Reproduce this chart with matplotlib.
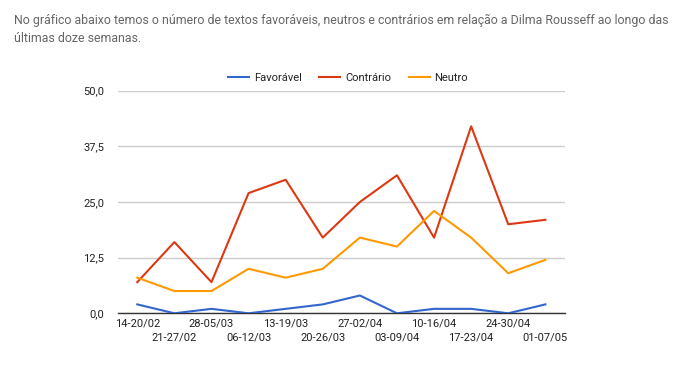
import matplotlib
matplotlib.use("Agg")
import matplotlib.pyplot as plt
from matplotlib import font_manager

weeks = ["14-20/02", "21-27/02", "28-05/03", "06-12/03", "13-19/03", "20-26/03",
         "27-02/04", "03-09/04", "10-16/04", "17-23/04", "24-30/04", "01-07/05"]
favoravel = [2, 0, 1, 0, 1, 2, 4, 0, 1, 1, 0, 2]
contrario = [7, 16, 7, 27, 30, 17, 25, 31, 17, 42, 20, 21]
neutro = [8, 5, 5, 10, 8, 10, 17, 15, 23, 17, 9, 12]
yticks = [0, 12.5, 25, 37.5, 50]
ytick_labels = ["0,0", "12,5", "25,0", "37,5", "50,0"]
series_names = ["Favorável", "Contrário", "Neutro"]
colors = ["#3366cc", "#dc3912", "#ff9900"]

plt.rcParams['font.family'] = ['Roboto', 'DejaVu Sans']

names = {f.name for f in font_manager.fontManager.ttflist}
if "Liberation Sans Narrow" in names:
    title_family = ['Liberation Sans Narrow', 'DejaVu Sans']
    title_size = 10.0
else:
    title_family = ['Roboto', 'DejaVu Sans']
    title_size = 8.9

fig = plt.figure(figsize=(6.8, 3.65), dpi=100)
fig.text(14/680, 1 - 20/365,
         "No gráfico abaixo temos o número de textos favoráveis, neutros e contrários em relação a Dilma Rousseff ao longo das",
         fontsize=title_size, family=title_family, color="#666666", va="center", ha="left")
fig.text(14/680, 1 - 38/365, "últimas doze semanas.",
         fontsize=title_size, family=title_family, color="#666666", va="center", ha="left")

ax = fig.add_axes([118/680, 1 - 313.3/365, (565 - 118)/680, (313.3 - 90.7)/365])
x = list(range(len(weeks)))
lines = []
for vals, name, c in zip([favoravel, contrario, neutro], series_names, colors):
    ln, = ax.plot(x, vals, color=c, lw=1.5, label=name, zorder=3)
    lines.append(ln)

ax.set_xlim(-0.52, len(weeks) - 1 + 0.53)
ax.set_ylim(0, 50)
ax.set_yticks(yticks)
ax.set_yticklabels(ytick_labels)
ax.yaxis.grid(True, color="#cccccc", lw=1)
ax.set_axisbelow(True)
for s in ["top", "right", "left"]:
    ax.spines[s].set_visible(False)
ax.spines["bottom"].set_color("#333333")
ax.spines["bottom"].set_linewidth(1)
ax.tick_params(axis="y", length=0, labelsize=8, labelcolor="#222222", pad=10)
ax.tick_params(axis="x", length=0, labelsize=8, labelcolor="#222222")
ax.set_xticks(x)
ax.set_xticklabels(["" for _ in weeks])
for i, w in enumerate(weeks):
    yoff = -10/222.6*50 if i % 2 == 0 else -24/222.6*50
    ax.text(i, yoff, w, ha="center", va="center", fontsize=8, color="#222222", clip_on=False)

fig.legend(handles=lines, labels=series_names, loc="center", bbox_to_anchor=(348/680, 1 - 78/365),
           ncol=3, frameon=False, fontsize=8, handlelength=1.9, columnspacing=1.6, handletextpad=0.4,
           labelcolor="#222222")

fig.savefig("out.png", dpi=100)
